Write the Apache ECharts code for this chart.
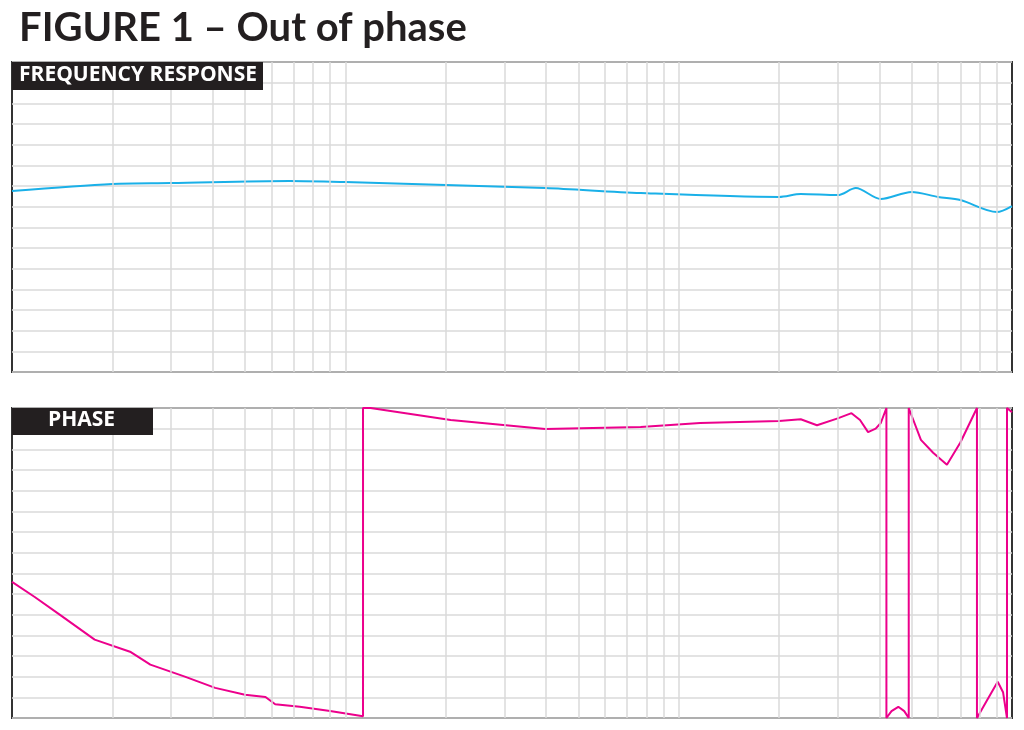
<!DOCTYPE html>
<html><head><meta charset="utf-8">
<script src="https://cdn.jsdelivr.net/npm/echarts@6/dist/echarts.min.js"></script>
<style>html,body{margin:0;padding:0;background:#fff}#c{width:1024px;height:730px}</style>
</head><body><div id="c"></div>
<script>
const gridFreqs = [20,30,40,50,60,70,80,90,100,200,300,400,500,600,700,800,900,1000,2000,3000,4000,5000,6000,7000,8000,9000];
const frFreq = [10,20,30,68,100,200,398,769,2000,2324,3000,3400,4040,5000,6000,7000,9000,10000];
const frVal  = [8.76,9.10,9.14,9.24,9.19,9.05,8.90,8.66,8.47,8.61,8.56,8.90,8.37,8.71,8.47,8.32,7.74,8.03];
const phFreq = [10,11.7,13.9,17.7,22.6,26,33,40.7,50,57.6,61.6,73,90,113,113,119,207,398,769,1160,2000,2324,2600,3000,3300,3500,3700,3900,4040,4200,4200,4350,4560,4750,4900,4900,5330,5800,6380,7000,7850,7850,8400,9060,9400,9660,9660,10000];
const phVal  = [-22,-39.5,-60,-89,-103,-118,-132,-145,-153,-155.6,-164,-167,-172,-178,180,180,166,155.6,158,162.6,165,167,160,168,174,166,152,156,162.6,180,-180,-172,-167,-172,-180,180,143,128,114,140,180,-180,-160,-138,-150,-180,180,175];

const chart = echarts.init(document.getElementById('c'));
const xa = i => ({type:'log',logBase:10,min:10,max:10000,gridIndex:i,axisLine:{show:false},axisTick:{show:false},axisLabel:{show:false},splitLine:{show:false}});
const ya = (i,min,max,iv) => ({type:'value',min:min,max:max,interval:iv,gridIndex:i,axisLine:{show:false},axisTick:{show:false},axisLabel:{show:false},splitLine:{show:true,lineStyle:{color:'#dadada',width:1.5}}});
const gridSeries = i => ({type:'line',xAxisIndex:i,yAxisIndex:i,data:[],z:1,markLine:{silent:true,symbol:'none',label:{show:false},lineStyle:{color:'#dadada',width:1.5,type:'solid'},data:gridFreqs.map(f=>({xAxis:f}))}});
chart.setOption({
  animation:false,
  title:{text:'FIGURE 1 – Out of phase',left:14,top:3,textStyle:{fontFamily:'Lato',fontWeight:'bold',fontSize:40,color:'#231f20'}},
  grid:[{left:12,right:12,top:62,height:310,show:true,borderColor:'#333',borderWidth:2,backgroundColor:'transparent'},
        {left:12,right:12,top:408,height:310,show:true,borderColor:'#333',borderWidth:2,backgroundColor:'transparent'}],
  xAxis:[xa(0),xa(1)],
  yAxis:[ya(0,0,15,1),ya(1,-180,180,24)],
  series:[gridSeries(0),gridSeries(1),
    {type:'line',xAxisIndex:0,yAxisIndex:0,z:3,smooth:0.3,showSymbol:false,data:frFreq.map((f,i)=>[f,frVal[i]]),lineStyle:{color:'#1ab0e8',width:2}},
    {type:'line',xAxisIndex:1,yAxisIndex:1,z:3,showSymbol:false,data:phFreq.map((f,i)=>[f,phVal[i]]),lineStyle:{color:'#ec008c',width:2}}
  ],
  graphic:[
    {type:'rect',left:12,top:62,shape:{width:251,height:28},style:{fill:'#231f20'},z:10},
    {type:'text',left:19,top:65,style:{text:'FREQUENCY RESPONSE',fill:'#fff',font:'bold 21px "Open Sans"'},z:11},
    {type:'rect',left:12,top:408,shape:{width:141,height:27},style:{fill:'#231f20'},z:10},
    {type:'text',left:48,top:410,style:{text:'PHASE',fill:'#fff',font:'bold 21px "Open Sans"'},z:11}
  ]
});
</script></body></html>
